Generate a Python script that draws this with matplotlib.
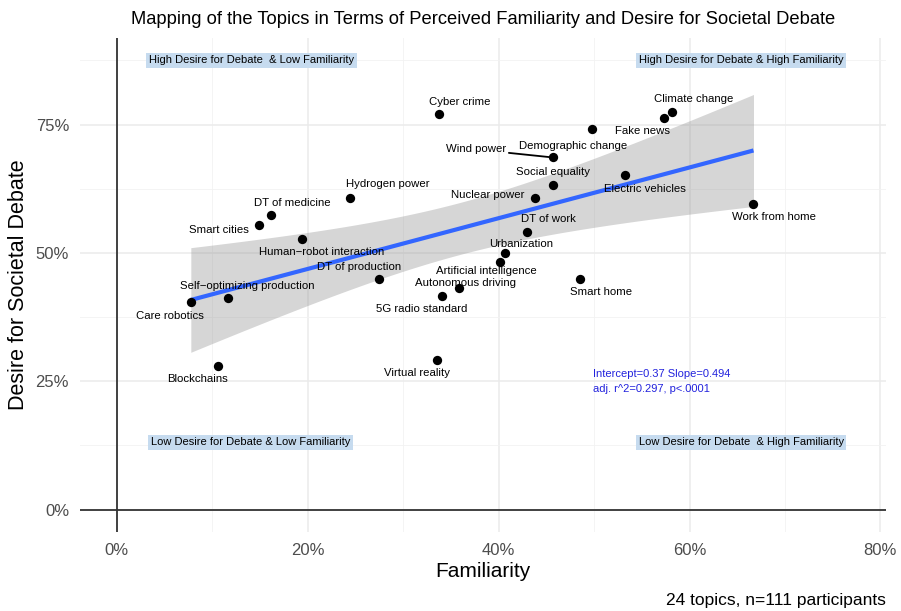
import numpy as np
import matplotlib
matplotlib.use("Agg")
import matplotlib.pyplot as plt
from matplotlib.ticker import FuncFormatter

plt.rcParams['font.family'] = ['Liberation Sans', 'DejaVu Sans']

topics = ["Care robotics", "Self\u2212optimizing production", "Blockchains", "Smart cities",
          "DT of medicine", "Human\u2212robot interaction", "Hydrogen power", "DT of production",
          "Cyber crime", "Virtual reality", "5G radio standard", "Autonomous driving",
          "Artificial intelligence", "Urbanization", "DT of work", "Nuclear power",
          "Social equality", "Wind power", "Demographic change", "Smart home",
          "Electric vehicles", "Fake news", "Climate change", "Work from home"]
familiarity = [0.0775, 0.116, 0.106, 0.149, 0.162, 0.194, 0.244, 0.275,
               0.337, 0.335, 0.341, 0.358, 0.401, 0.407, 0.430, 0.438,
               0.457, 0.457, 0.498, 0.485, 0.532, 0.573, 0.582, 0.667]
debate = [0.404, 0.412, 0.279, 0.555, 0.574, 0.527, 0.607, 0.449,
          0.771, 0.291, 0.416, 0.432, 0.482, 0.500, 0.541, 0.607,
          0.633, 0.686, 0.742, 0.449, 0.652, 0.762, 0.775, 0.596]

# label offsets in pixels (dx, dy) from each point, dy positive = down
offsets = {
    "Care robotics": (-21, 14), "Self\u2212optimizing production": (20, -12),
    "Blockchains": (-21, 13), "Smart cities": (-40, 5), "DT of medicine": (21, -12),
    "Human\u2212robot interaction": (20, 13), "Hydrogen power": (38, -14),
    "DT of production": (-20, -12), "Cyber crime": (21, -12), "Virtual reality": (-20, 13),
    "5G radio standard": (-21, 13), "Autonomous driving": (7, -5),
    "Artificial intelligence": (-13, 9), "Urbanization": (16, -9), "DT of work": (21, -13),
    "Nuclear power": (-47, -3), "Social equality": (0, -13), "Wind power": (-77, -8),
    "Demographic change": (-19, 17), "Smart home": (21, 13), "Electric vehicles": (20, 14),
    "Fake news": (-21, 13), "Climate change": (21, -13), "Work from home": (21, 13),
}

x = np.array(familiarity)
y = np.array(debate)

fig = plt.figure(figsize=(9.01, 6.11), dpi=100)
ax = fig.add_axes([0.089, 0.129, 0.894, 0.809])
ax.set_xlim(-0.0384, 0.8055)
ax.set_ylim(-0.044, 0.919)

# grid
for v in np.arange(0, 0.81, 0.2):
    ax.axvline(v, color="#ebebeb", lw=1.1, zorder=0)
for v in np.arange(0.1, 0.81, 0.2):
    ax.axvline(v, color="#f2f2f2", lw=0.6, zorder=0)
for v in np.arange(0, 0.9, 0.25):
    ax.axhline(v, color="#ebebeb", lw=1.1, zorder=0)
for v in np.arange(0.125, 0.9, 0.25):
    ax.axhline(v, color="#f2f2f2", lw=0.6, zorder=0)
ax.axhline(0, color="#333333", lw=1.3, zorder=1)
ax.axvline(0, color="#333333", lw=1.3, zorder=1)

# linear fit with 95% confidence band
n = len(x)
slope, intercept = np.polyfit(x, y, 1)
xs = np.linspace(x.min(), x.max(), 100)
fit = intercept + slope * xs
resid = y - (intercept + slope * x)
s = np.sqrt(np.sum(resid ** 2) / (n - 2))
sxx = np.sum((x - x.mean()) ** 2)
se = s * np.sqrt(1 / n + (xs - x.mean()) ** 2 / sxx)
t = 2.074
ax.fill_between(xs, fit - t * se, fit + t * se, color="#999999", alpha=0.4, lw=0, zorder=2)
ax.plot(xs, fit, color="#3366FF", lw=3, zorder=3, solid_capstyle="butt")

ax.scatter(x, y, s=45, color="black", zorder=4, lw=0)

for name, xi, yi in zip(topics, x, y):
    dx, dy = offsets[name]
    if name == "Wind power":
        ax.annotate(name, (xi, yi), xytext=(dx, -dy), textcoords="offset pixels",
                    ha="center", va="center", fontsize=8.2, zorder=5,
                    arrowprops=dict(arrowstyle="-", color="black", lw=1.3, shrinkA=0, shrinkB=3))
    else:
        ax.annotate(name, (xi, yi), xytext=(dx, -dy), textcoords="offset pixels",
                    ha="center", va="center", fontsize=8.2, zorder=5)

box = dict(boxstyle="square,pad=0.25", fc="#c6dbef", ec="none")
ax.text(0.141, 0.875, "High Desire for Debate  & Low Familiarity", ha="center", va="center", fontsize=8, bbox=box)
ax.text(0.654, 0.875, "High Desire for Debate & High Familiarity", ha="center", va="center", fontsize=8, bbox=box)
ax.text(0.140, 0.131, "Low Desire for Debate & Low Familiarity", ha="center", va="center", fontsize=8, bbox=box)
ax.text(0.654, 0.131, "Low Desire for Debate  & High Familiarity", ha="center", va="center", fontsize=8, bbox=box)

ax.text(0.499, 0.265, "Intercept=0.37 Slope=0.494", color="#2222dd", fontsize=8, ha="left", va="center")
ax.text(0.499, 0.234, "adj. r^2=0.297, p<.0001", color="#2222dd", fontsize=8, ha="left", va="center")

for sp in ax.spines.values():
    sp.set_visible(False)
ax.set_xticks([0, 0.2, 0.4, 0.6, 0.8])
ax.set_yticks([0, 0.25, 0.5, 0.75])
pct = FuncFormatter(lambda v, p: f"{v * 100:.0f}%")
ax.xaxis.set_major_formatter(pct)
ax.yaxis.set_major_formatter(pct)
ax.tick_params(length=0, labelsize=12, labelcolor="#4d4d4d", pad=8)

ax.set_xlabel("Familiarity", fontsize=15, labelpad=3)
ax.set_ylabel("Desire for Societal Debate", fontsize=15.5, labelpad=5)
ax.set_title("Mapping of the Topics in Terms of Perceived Familiarity and Desire for Societal Debate",
             fontsize=13.2, pad=10)
fig.text(0.983, 0.018, "24 topics, n=111 participants", ha="right", va="center", fontsize=12.5)

fig.savefig("out.png", dpi=100)
